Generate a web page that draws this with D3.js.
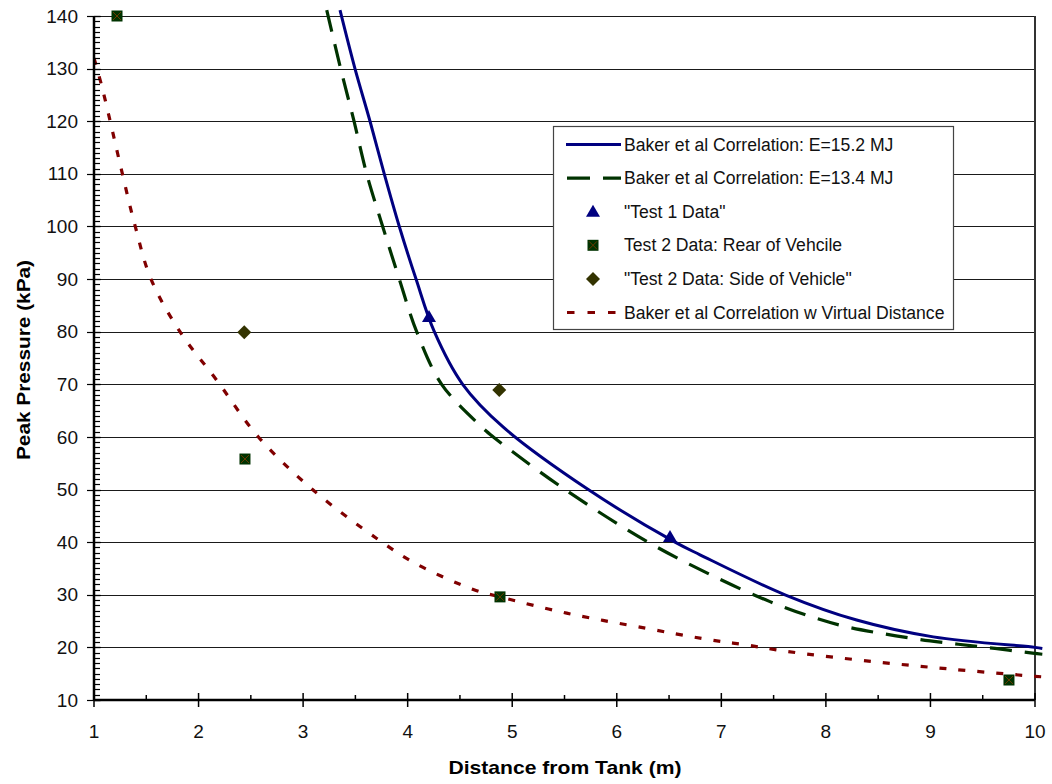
<!DOCTYPE html>
<html>
<head>
<meta charset="utf-8">
<script src="https://cdn.jsdelivr.net/npm/d3@7"></script>
<style>
  html, body { margin: 0; padding: 0; background: #fff; }
  svg { display: block; font-family: "Liberation Sans", Arial, sans-serif; }
</style>
</head>
<body>
<svg id="chart" width="1052" height="784"></svg>
<script>
// ---------- data ----------
const xTickValues = [1, 2, 3, 4, 5, 6, 7, 8, 9, 10];
const yTickValues = [10, 20, 30, 40, 50, 60, 70, 80, 90, 100, 110, 120, 130, 140];

// Baker et al Correlation: E=15.2 MJ  [distance m, pressure kPa]
const baker152 = [
  [3.353, 141.1], [3.496, 130], [3.640, 120], [3.776, 110], [3.920, 100],
  [4.080, 90], [4.255, 80], [4.526, 70], [4.912, 61.9],
  [5.727, 50], [6.557, 40], [6.796, 37.6],
  [7.609, 30], [8.294, 25.2], [9.027, 22.0], [10.0, 20.0], [10.07, 19.8]
];
// Baker et al Correlation: E=13.4 MJ
const baker134 = [
  [3.226, 141.1], [3.359, 130], [3.487, 120], [3.608, 110], [3.761, 100],
  [3.920, 90], [4.086, 80], [4.325, 70], [4.708, 61.9], [4.819, 60],
  [5.505, 50], [6.30, 40], [6.939, 33.4], [7.465, 28.7], [7.864, 25.8],
  [8.199, 23.9], [8.549, 22.6], [8.900, 21.5], [9.266, 20.6], [9.617, 19.8],
  [9.977, 18.9], [10.07, 18.7]
];
// "Test 1 Data"
const test1 = [[4.204, 82.8], [6.509, 41.0]];
// Test 2 Data: Rear of Vehcile
const test2Rear = [[1.22, 140], [2.444, 55.8], [4.883, 29.6], [9.751, 13.8]];
// "Test 2 Data: Side of Vehicle"
const test2Side = [[2.437, 79.9], [4.876, 68.9]];
// Baker et al Correlation w Virtual Distance
const bakerVirtual = [
  [1.0, 132.0], [1.074, 126.7], [1.163, 119.3], [1.249, 111.9], [1.392, 100.2],
  [1.545, 90], [1.822, 80], [2.173, 70.8], [2.572, 60], [3.09, 50],
  [3.704, 40.7], [4.07, 36.0], [4.628, 31.0], [4.883, 29.6], [5.521, 26.5],
  [6.286, 23.6], [6.843, 21.6], [7.242, 20.45], [7.64, 19.2], [8.453, 17.3],
  [9.234, 15.8], [10.0, 14.5], [10.07, 14.4]
];

const legendLabels = [
  "Baker et al Correlation: E=15.2 MJ",
  "Baker et al Correlation: E=13.4 MJ",
  "\"Test 1 Data\"",
  "Test 2 Data: Rear of Vehcile",
  "\"Test 2 Data: Side of Vehicle\"",
  "Baker et al Correlation w Virtual Distance"
];
const xTitle = "Distance from Tank (m)";
const yTitle = "Peak Pressure (kPa)";

// ---------- layout ----------
const svg = d3.select("#chart");
const L = 94, R = 1035, T = 16, B = 700;
const x = d3.scaleLinear().domain([1, 10]).range([L, R]);
const y = d3.scaleLinear().domain([10, 140]).range([B, T]);

const BLUE = "#000080", GREEN = "#003300", RED = "#800000";
const SQ = "#003300", SQX = "#6b3a00", DIA = "#333300";

// gridlines
svg.append("g").selectAll("line")
  .data(yTickValues.filter(v => v > 10))
  .join("line")
  .attr("x1", L).attr("x2", R)
  .attr("y1", d => Math.round(y(d)) + 0.5).attr("y2", d => Math.round(y(d)) + 0.5)
  .attr("stroke", "#1a1a1a").attr("stroke-width", 1);

// right border
svg.append("line").attr("x1", R).attr("x2", R).attr("y1", T).attr("y2", B)
  .attr("stroke", "#333").attr("stroke-width", 2);

// clip
svg.append("defs").append("clipPath").attr("id", "clip")
  .append("rect").attr("x", L).attr("y", 8).attr("width", 952).attr("height", B - 8);

const line = d3.line().x(d => x(d[0])).y(d => y(d[1])).curve(d3.curveCatmullRom.alpha(0.5));
const plot = svg.append("g").attr("clip-path", "url(#clip)");

plot.append("path").datum(bakerVirtual).attr("d", line)
  .attr("fill", "none").attr("stroke", RED).attr("stroke-width", 3.2)
  .attr("stroke-dasharray", "7,12");
plot.append("path").datum(baker134).attr("d", line)
  .attr("fill", "none").attr("stroke", GREEN).attr("stroke-width", 3.2)
  .attr("stroke-dasharray", "22,13");
plot.append("path").datum(baker152).attr("d", line)
  .attr("fill", "none").attr("stroke", BLUE).attr("stroke-width", 3);

// markers
function triangle(g, cx, cy) {
  g.append("path").attr("d", `M${cx},${cy - 7} L${cx + 7},${cy + 5} L${cx - 7},${cy + 5} Z`)
    .attr("fill", BLUE);
}
function square(g, cx, cy) {
  g.append("rect").attr("x", cx - 5.5).attr("y", cy - 5.5).attr("width", 11).attr("height", 11)
    .attr("fill", SQ);
  g.append("path").attr("d", `M${cx - 4},${cy - 4} L${cx + 4},${cy + 4} M${cx + 4},${cy - 4} L${cx - 4},${cy + 4}`)
    .attr("stroke", SQX).attr("stroke-width", 1);
}
function diamond(g, cx, cy) {
  g.append("path").attr("d", `M${cx},${cy - 7} L${cx + 7},${cy} L${cx},${cy + 7} L${cx - 7},${cy} Z`)
    .attr("fill", DIA);
}
const mk = svg.append("g");
test1.forEach(d => triangle(mk, x(d[0]), y(d[1])));
test2Rear.forEach(d => square(mk, x(d[0]), y(d[1])));
test2Side.forEach(d => diamond(mk, x(d[0]), y(d[1])));

// axes
const axG = svg.append("g");
// y minor ticks (inside)
axG.selectAll("line.ymin").data(d3.range(10, 141, 1)).join("line")
  .attr("x1", L).attr("x2", L + 6)
  .attr("y1", d => Math.round(y(d)) + 0.5).attr("y2", d => Math.round(y(d)) + 0.5)
  .attr("stroke", "#000").attr("stroke-width", 1.2);
// y major ticks (cross)
axG.selectAll("line.ymaj").data(yTickValues).join("line")
  .attr("x1", L - 7).attr("x2", L + 7)
  .attr("y1", d => Math.round(y(d)) + 0.5).attr("y2", d => Math.round(y(d)) + 0.5)
  .attr("stroke", "#000").attr("stroke-width", 1.2);
// x minor ticks (inside)
axG.selectAll("line.xmin").data(d3.range(1.5, 10, 1)).join("line")
  .attr("x1", d => x(d)).attr("x2", d => x(d))
  .attr("y1", B).attr("y2", B - 5)
  .attr("stroke", "#000").attr("stroke-width", 1.5);
// x major ticks (cross)
axG.selectAll("line.xmaj").data(xTickValues).join("line")
  .attr("x1", d => x(d)).attr("x2", d => x(d))
  .attr("y1", B - 7).attr("y2", B + 7)
  .attr("stroke", "#000").attr("stroke-width", 1.5);
// axis lines
axG.append("line").attr("x1", L).attr("x2", L).attr("y1", T).attr("y2", B)
  .attr("stroke", "#000").attr("stroke-width", 2.5);
axG.append("line").attr("x1", L).attr("x2", R).attr("y1", B).attr("y2", B)
  .attr("stroke", "#000").attr("stroke-width", 2.5);

// tick labels
svg.append("g").selectAll("text").data(yTickValues).join("text")
  .attr("x", 78).attr("y", d => y(d)).attr("dy", "0.35em")
  .attr("text-anchor", "end").attr("font-size", 19).attr("fill", "#111")
  .text(d => d);
svg.append("g").selectAll("text").data(xTickValues).join("text")
  .attr("x", d => x(d)).attr("y", 731).attr("dy", "0.35em")
  .attr("text-anchor", "middle").attr("font-size", 19).attr("fill", "#111")
  .text(d => d);

// axis titles
svg.append("text").attr("x", 565).attr("y", 774)
  .attr("text-anchor", "middle").attr("font-size", 18.5).attr("font-weight", "bold")
  .attr("textLength", 233).attr("lengthAdjust", "spacingAndGlyphs")
  .text(xTitle);
svg.append("text").attr("transform", "translate(30,360) rotate(-90)")
  .attr("text-anchor", "middle").attr("font-size", 19).attr("font-weight", "bold")
  .attr("textLength", 200).attr("lengthAdjust", "spacingAndGlyphs")
  .text(yTitle);

// legend
const lg = svg.append("g");
lg.append("rect").attr("x", 553.5).attr("y", 126.5).attr("width", 400).attr("height", 203)
  .attr("fill", "#fff").attr("stroke", "#444").attr("stroke-width", 1.2);
const rowY = i => 144.5 + i * 33.6;
lg.append("line").attr("x1", 566).attr("x2", 621).attr("y1", rowY(0)).attr("y2", rowY(0))
  .attr("stroke", BLUE).attr("stroke-width", 3);
lg.append("line").attr("x1", 567).attr("x2", 621).attr("y1", rowY(1)).attr("y2", rowY(1))
  .attr("stroke", GREEN).attr("stroke-width", 3.2).attr("stroke-dasharray", "23,13");
triangle(lg, 593, rowY(2));
square(lg, 593, rowY(3));
diamond(lg, 593, rowY(4));
lg.append("line").attr("x1", 567).attr("x2", 621).attr("y1", rowY(5)).attr("y2", rowY(5))
  .attr("stroke", RED).attr("stroke-width", 3.2).attr("stroke-dasharray", "7.5,13");
lg.selectAll("text.lab").data(legendLabels).join("text")
  .attr("x", 624).attr("y", (d, i) => rowY(i)).attr("dy", "0.35em")
  .attr("font-size", 17.6).attr("fill", "#111")
  .text(d => d);
</script>
</body>
</html>
